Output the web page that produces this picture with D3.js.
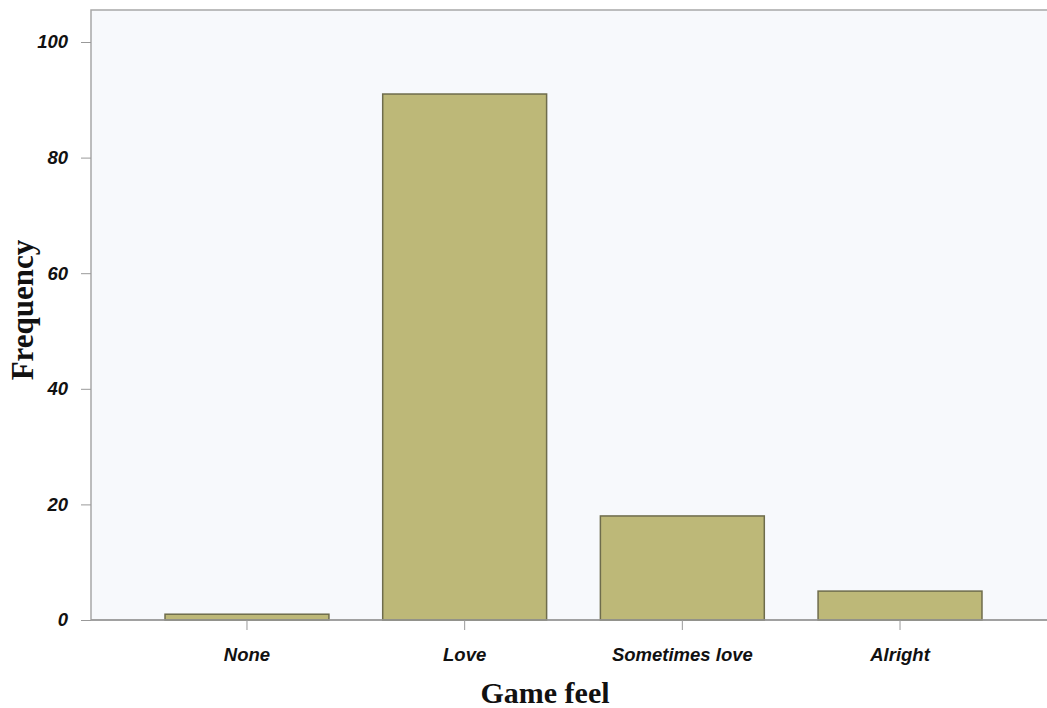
<!DOCTYPE html>
<html><head><meta charset="utf-8">
<script src="https://cdn.jsdelivr.net/npm/d3@7"></script>
<style>body{margin:0;background:#fff}svg{display:block}</style>
</head><body><svg id="c" width="1047" height="708"></svg>
<script>
const categories = ["None", "Love", "Sometimes love", "Alright"];
const frequencies = [1, 91, 18, 5];
const yTicks = [0, 20, 40, 60, 80, 100];

const svg = d3.select("#c");
const plot = {left: 91, top: 10, right: 1056, bottom: 620};

const x = d3.scaleBand().domain(categories).range([plot.left, plot.right])
  .paddingInner(0.247).paddingOuter(0.34);
const y = d3.scaleLinear().domain([0, 100]).range([620, 42]);

// plot background
svg.append("rect").attr("x", plot.left).attr("y", plot.top)
  .attr("width", 1047 - plot.left + 5).attr("height", plot.bottom - plot.top)
  .attr("fill", "#f7f9fc").attr("stroke", "#a8a8a8").attr("stroke-width", 1.5);

// bars
svg.selectAll("rect.bar").data(categories).enter().append("rect")
  .attr("class", "bar")
  .attr("x", d => x(d))
  .attr("width", x.bandwidth())
  .attr("y", (d, i) => y(frequencies[i]))
  .attr("height", (d, i) => y(0) - y(frequencies[i]))
  .attr("fill", "#bdb878").attr("stroke", "#6e6c4c").attr("stroke-width", 1.5);

// y axis
const yAxis = svg.append("g").attr("transform", `translate(${plot.left},0)`)
  .call(d3.axisLeft(y).tickValues(yTicks).tickSize(10).tickPadding(13).tickSizeOuter(0));
yAxis.select(".domain").remove();
yAxis.selectAll("line").attr("stroke", "#999");
yAxis.selectAll("text").attr("font-family", "Liberation Sans, Arial, sans-serif")
  .attr("font-size", 18.5).attr("font-weight", "bold").attr("font-style", "italic").attr("fill", "#111");

// x axis
const xAxis = svg.append("g").attr("transform", `translate(0,${plot.bottom})`)
  .call(d3.axisBottom(x).tickSize(10).tickPadding(18).tickSizeOuter(0));
xAxis.select(".domain").attr("stroke", "#999").attr("stroke-width", 1.5)
  .attr("d", `M${plot.left},0H1047`);
xAxis.selectAll("line").attr("stroke", "#999");
xAxis.selectAll("text").attr("font-family", "Liberation Sans, Arial, sans-serif")
  .attr("font-size", 18.5).attr("font-weight", "bold").attr("font-style", "italic").attr("fill", "#111");

// axis titles
svg.append("text").attr("x", 545).attr("y", 703).attr("text-anchor", "middle")
  .attr("font-family", "Liberation Serif, Times New Roman, serif").attr("font-weight", "bold")
  .attr("font-size", 30).attr("fill", "#111").text("Game feel");
svg.append("text").attr("transform", "translate(33,310) rotate(-90)").attr("text-anchor", "middle")
  .attr("font-family", "Liberation Serif, Times New Roman, serif").attr("font-weight", "bold")
  .attr("font-size", 31).attr("fill", "#111").text("Frequency");
</script></body></html>
